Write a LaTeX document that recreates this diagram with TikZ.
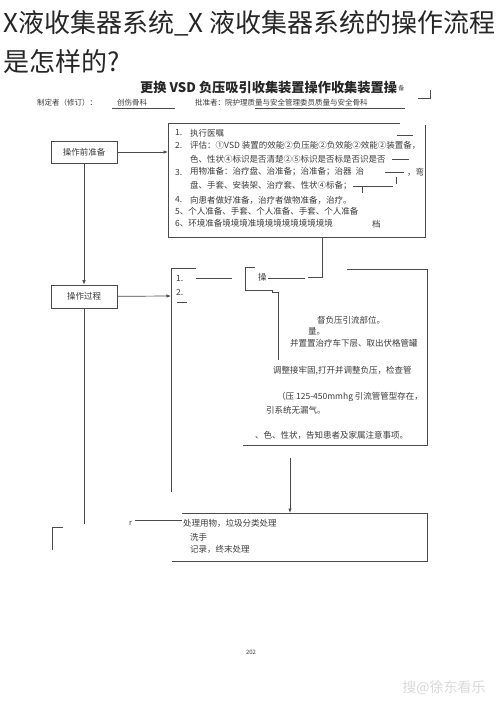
\documentclass[tikz,border=0pt]{standalone}
\usepackage{fontspec}
\setmainfont{Noto Sans CJK SC}
\usetikzlibrary{arrows.meta}
\definecolor{linegray}{HTML}{4A4A4A}
\definecolor{txtgray}{HTML}{3A3A3A}
\tikzset{
  ln/.style={draw=linegray, line width=0.7pt},
  arr/.style={ln, -{Latex[length=4.5pt,width=3.5pt]}},
  stepbox/.style={ln, minimum width=66pt, minimum height=22pt, inner sep=0, text=txtgray, font=\fontsize{8.5}{10}\selectfont},
  txt/.style={anchor=west, inner sep=0, text=txtgray, font=\fontsize{8.5}{10}\selectfont},
  small/.style={anchor=west, inner sep=0, text=txtgray, font=\fontsize{7.5}{9}\selectfont}
}
\begin{document}
\begin{tikzpicture}[x=1pt, y=-1pt]
\useasboundingbox[fill=white] (0,0) rectangle (500,707);

\node[anchor=west, inner sep=0, text=black!85, font=\fontsize{26}{30}\selectfont] (head1) at (3,23) {X液收集器系统\_X 液收集器系统的操作流程};
\node[anchor=west, inner sep=0, text=black!85, font=\fontsize{26}{30}\selectfont] (head2) at (3,62) {是怎样的?};

\node[anchor=west, inner sep=0, text=black!85, font=\bfseries\fontsize{13.2}{15}\selectfont] (doctitle) at (140,88) {更换 VSD 负压吸引收集装置操作收集装置操};
\node[anchor=west, inner sep=1pt, text=txtgray, font=\fontsize{6}{7}\selectfont] (docbei) at (doctitle.east) {备};
\coordinate (hook0) at (418,98);
\coordinate (hook1) at (430,98);
\coordinate (hook2) at (430,90);
\draw[ln] (hook0) -- (hook1) -- (hook2);

\node[small] (maker) at (37,103) {制定者（修订）：};
\node[small] (makerdept) at (117,103) {创伤骨科};
\draw[ln, line width=0.5pt] (112,108) -- (175,108);
\node[small] (approver) at (195,103) {批准者：院护理质量与安全管理委员质量与安全骨科};
\draw[ln, line width=0.5pt] (255,108) -- (405,108);

\node[stepbox] (prep) at (84,152) {操作前准备};
\coordinate (prepin) at (168,152);
\draw[arr] (prep) -- (prepin);
\draw[ln] (168,123) -- (400,123);
\draw[ln] (425,125) -- (425,237) -- (168,237) -- (168,123);

\node[txt] (p1n) at (175,133) {1.};
\node[txt] (p1) at (190,133) {执行医嘱};
\node[txt] (p2n) at (175,145) {2.};
\node[txt] (p2) at (190,145) {评估：①VSD 装置的效能②负压能②负效能②效能②装置备，};
\node[txt] (p2b) at (190,159) {色、性状④标识是否清楚②⑤标识是否标是否识是否};
\node[txt] (p3n) at (175,172) {3.};
\node[txt] (p3) at (190,172) {用物准备：治疗盘、治准备；治准备；治器\ \ 治};
\node[txt] (p3c) at (407,172) {，弯};
\node[txt] (p3b) at (190,186) {盘、手套、安装架、治疗套、性状④标备；};
\node[txt] (p4n) at (175,200) {4.};
\node[txt] (p4) at (190,200) {向患者做好准备，治疗者做物准备，治疗。};
\node[txt] (p5) at (175,211) {5、个人准备、手套、个人准备、手套、个人准备};
\node[txt] (p6) at (175,223) {6、环境准备境境境准境境境境境境境境境};
\node[txt] (p6b) at (372,224) {档};
\draw[ln] (397,135) -- (413,135);
\draw[ln] (392,159) -- (409,159);
\draw[ln] (385,172) -- (404,172);
\draw[ln] (396,177) -- (396,184);
\draw[ln] (353,186) -- (393,186);
\draw[ln] (362,186) -- (362,193);

\node[stepbox, minimum height=23pt] (proc) at (84,296.5) {操作过程};
\draw[arr] (84,163) -- (proc);
\coordinate (procin) at (171,296);
\draw[arr] (proc) -- (procin);
\draw[ln] (196,268) -- (171,268) -- (171,492);
\node[txt] (s1n) at (176,279) {1.};
\node[txt] (s2n) at (176,292) {2.};
\draw[ln, line width=0.5pt] (177,302) -- (187,302);
\draw[ln] (196,278) -- (232,278);

\coordinate (prepout) at (322,238);
\coordinate (caobox) at (308,277);
\draw[ln] (prepout) -- (322,277) -- (caobox);
\node[txt] (cao) at (258,277) {操};
\draw[ln] (255,267) -- (245,267) -- (245,290) -- (272,290) -- (272,292) -- (278,292) -- (278,360);
\draw[ln] (268,278) -- (305,278);
\draw[ln] (347,269) -- (427,269) -- (427,445) -- (243,445);

\node[txt] (s3) at (317,320) {督负压引流部位。};
\node[txt] (s4) at (308,331) {量。};
\node[txt] (s5) at (290,343) {并置置治疗车下层、取出伏格管罐};
\node[txt] (s6) at (273,371) {调整接牢固,打开并调整负压，检查管};
\node[txt] (s7) at (277,397) {（压 125-450mmhg 引流管管型存在，};
\node[txt] (s8) at (266,410) {引系统无漏气。};
\node[txt] (s9) at (255,435) {、色、性状，告知患者及家属注意事项。};

\coordinate (procout) at (290,458);
\coordinate (endin) at (290,513);
\draw[arr] (procout) -- (endin);
\draw[ln] (182,513) -- (427,513) -- (427,561) -- (172,561);
\node[txt] (e1) at (183,523) {处理用物，垃圾分类处理};
\node[txt] (e2) at (190,537) {洗手};
\node[txt] (e3) at (190,549) {记录，终末处理};
\node[small] (er) at (129,523) {r};
\coordinate (erline) at (135,520);
\draw[ln] (erline) -- (182,520);

\draw[ln] (proc) -- (84,524);
\draw[ln] (63,527) -- (52,527) -- (52,550);

\node[inner sep=0, text=txtgray, font=\fontsize{6}{7}\selectfont] (pageno) at (251,652) {202};
\node[inner sep=0, text=black!15, font=\fontsize{14}{16}\selectfont] (mark) at (444,688) {搜@徐东看乐};
\end{tikzpicture}
\end{document}
